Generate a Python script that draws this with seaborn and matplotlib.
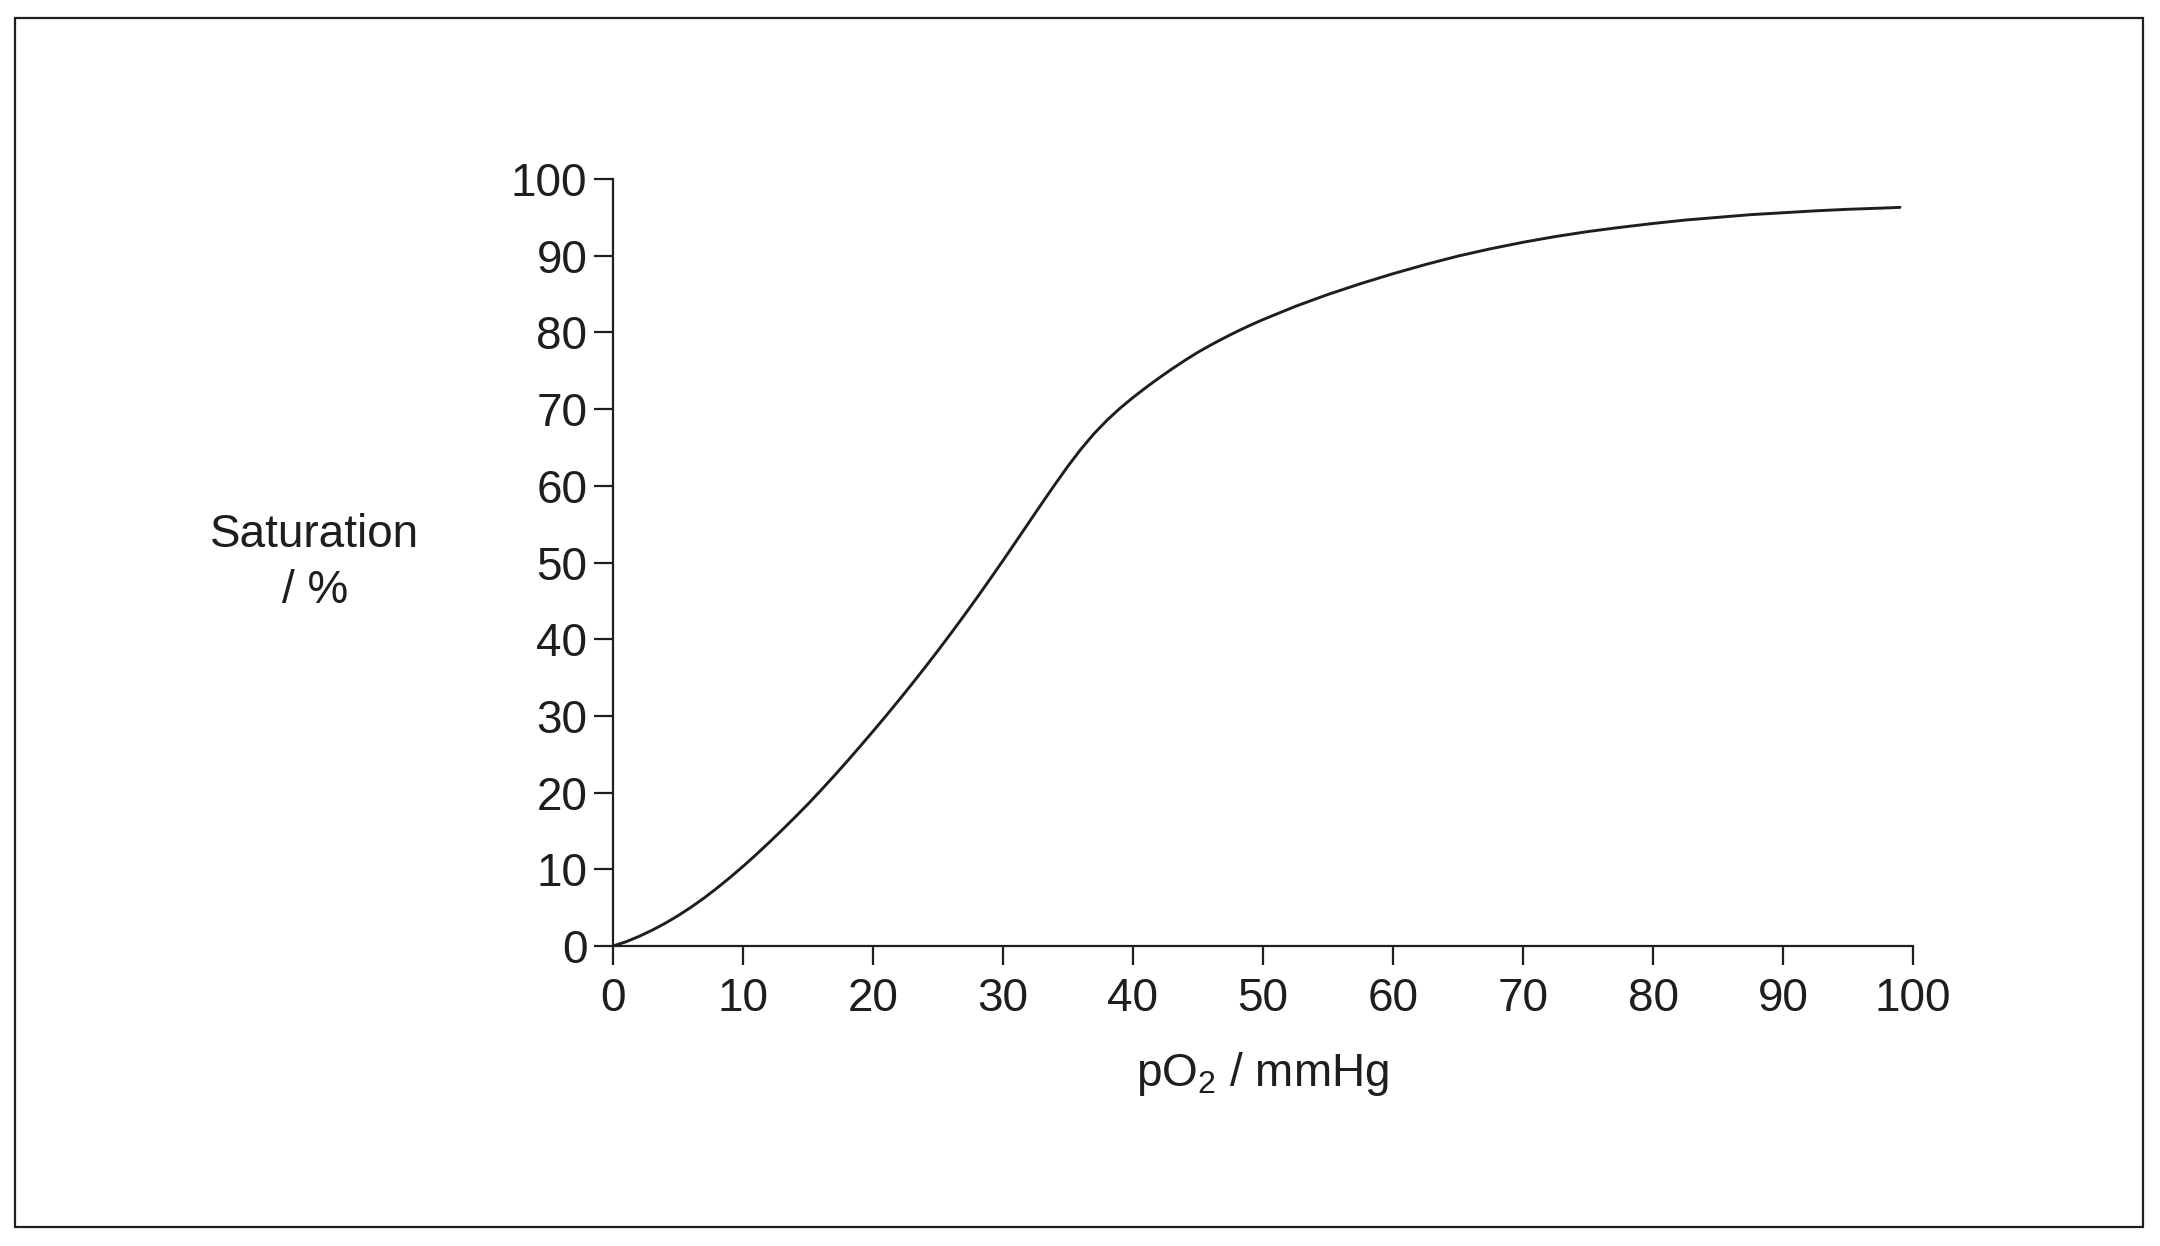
import matplotlib
matplotlib.use("Agg")
import matplotlib.pyplot as plt
from matplotlib.patches import Rectangle
import seaborn as sns

# oxygen dissociation curve
po2 = [0, 1, 2, 3, 4, 5, 6, 7, 8, 9, 10, 11, 12, 13, 14, 15, 16, 17, 18, 19,
       20, 21, 22, 23, 24, 25, 26, 27, 28, 29, 30, 31, 32, 33, 34, 35, 36, 37,
       38, 39, 40, 41, 42, 43, 44, 45, 46, 47, 48, 49, 50, 52.5, 55, 57.5, 60,
       62.5, 65, 67.5, 70, 72.5, 75, 77.5, 80, 82.5, 85, 87.5, 90, 92.5, 95,
       97.5, 99]
saturation = [0, 0.55, 1.25, 2.05, 2.95, 3.95, 5.05, 6.25, 7.55, 8.93, 10.38,
              11.90, 13.48, 15.11, 16.79, 18.51, 20.31, 22.16, 24.06, 26.01,
              27.99, 30.01, 32.07, 34.17, 36.32, 38.52, 40.77, 43.07, 45.42,
              47.82, 50.26, 52.74, 55.24, 57.74, 60.19, 62.57, 64.79, 66.79,
              68.55, 70.11, 71.51, 72.82, 74.06, 75.24, 76.36, 77.42, 78.37,
              79.27, 80.12, 80.92, 81.67, 83.4, 84.95, 86.35, 87.65, 88.85,
              89.95, 90.9, 91.75, 92.5, 93.15, 93.7, 94.2, 94.65, 95.0, 95.35,
              95.6, 95.85, 96.05, 96.2, 96.3]
ticks = [0, 10, 20, 30, 40, 50, 60, 70, 80, 90, 100]

ink = "#1e1e1e"

sns.set_theme(style="white")
plt.rcParams['font.family'] = ['Liberation Sans', 'DejaVu Sans']
plt.rcParams['mathtext.fontset'] = 'custom'
plt.rcParams['mathtext.rm'] = 'Liberation Sans'
plt.rcParams['mathtext.default'] = 'regular'

fig = plt.figure(figsize=(21.6, 12.46), dpi=100)
ax = fig.add_axes([613 / 2160, 1 - 946 / 1246, 1300 / 2160, 767 / 1246])

sns.lineplot(x=po2, y=saturation, ax=ax, color=ink, linewidth=2.1)
ax.lines[0].set_clip_on(False)
ax.lines[0].set_solid_joinstyle("round")

ax.set_xlim(0, 100)
ax.set_ylim(0, 100)
ax.set_xticks(ticks)
ax.set_yticks(ticks)
ax.set_xlabel("")
ax.set_ylabel("")
sns.despine(ax=ax)
for s in ["left", "bottom"]:
    ax.spines[s].set_color(ink)
    ax.spines[s].set_linewidth(1.6)
ax.tick_params(axis="both", direction="out", length=13.5, width=1.6,
               color=ink, labelcolor=ink, labelsize=33, left=True, bottom=True)
ax.tick_params(axis="y", pad=5)
ax.tick_params(axis="x", pad=8.5)

# axis titles
fig.text(315 / 2160, 1 - 563 / 1246, "Saturation\n/ %", ha="center", va="center",
         fontsize=33, color=ink, multialignment="center", linespacing=1.35)
fig.text(1263 / 2160, 1 - 1086 / 1246, r"pO$_2$ / mmHg", ha="center", va="baseline",
         fontsize=33, color=ink)

# outer frame
fig.patches.append(Rectangle((15 / 2160, 1 - 1227 / 1246), 2128 / 2160, 1209 / 1246,
                             transform=fig.transFigure, fill=False,
                             edgecolor=ink, linewidth=1.6))

fig.savefig("out.png", dpi=100)
